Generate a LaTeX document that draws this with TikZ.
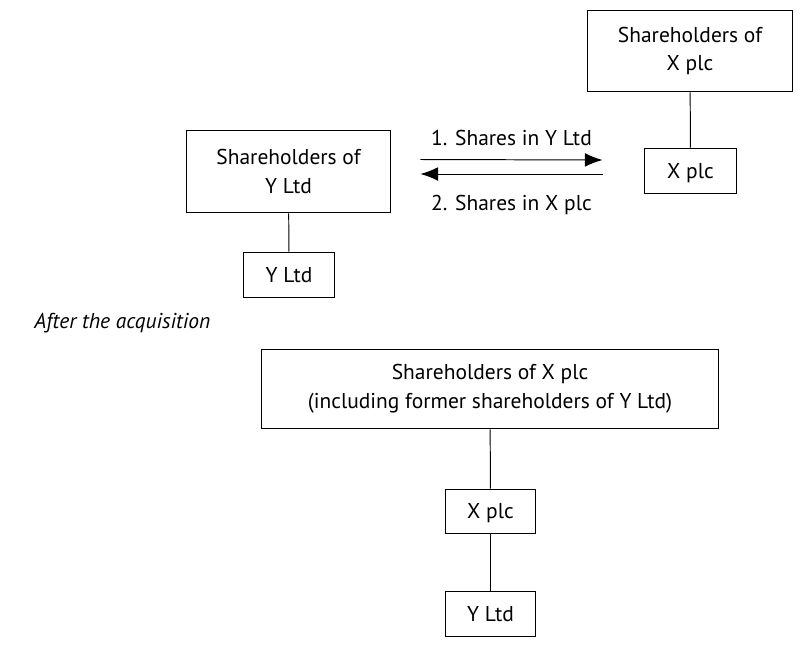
\documentclass[tikz,border=0pt]{standalone}
\usepackage{fontspec}
\setmainfont{PT Sans}
\usetikzlibrary{arrows.meta, positioning, calc}

\tikzset{
    holderbox/.style={rectangle, draw, line width=0.5pt, text centered, align=center, inner sep=0pt},
    unitbox/.style={holderbox, text depth=0pt},
    flow/.style={-{Latex[length=9pt, width=7pt]}, line width=0.5pt},
}

\begin{document}
\begin{tikzpicture}[x=0.018cm, y=-0.018cm, font=\fontsize{11}{14.8}\selectfont]
                \useasboundingbox (0,0) rectangle (807,648);
                % Before the acquisition
                \node (shx) [holderbox, minimum width=206*0.512pt, minimum height=82*0.512pt] at (690,51) {Shareholders of\\X plc};
                \node (xplc) [unitbox, minimum width=93*0.512pt, minimum height=45*0.512pt] at (690.5,170.5) {X plc};
                \node (shy) [holderbox, minimum width=205*0.512pt, minimum height=83*0.512pt] at (288.5,171.5) {Shareholders of\\Y Ltd};
                \node (yltd) [unitbox, minimum width=92*0.512pt, minimum height=45*0.512pt] at (289,274.5) {Y Ltd};

                % Exchange of shares
                \coordinate (tfrom) at ($(shy.east)+(29,-12)$);
                \coordinate (tto) at ($(xplc.west)+(-41,-10.5)$);
                \coordinate (bfrom) at ($(xplc.west)+(-41,3.5)$);
                \coordinate (bto) at ($(shy.east)+(29,2.5)$);
                \draw[flow] (tfrom) -- (tto);
                \draw[flow] (bfrom) -- (bto);
                \node (sharey) at ($(tfrom)!0.5!(tto)+(0,-22)$) {1. Shares in Y Ltd};
                \node (sharex) at ($(bfrom)!0.5!(bto)+(0,31)$) {2. Shares in X plc};

                \draw[line width=0.5pt] (shx) -- (xplc);
                \draw[line width=0.5pt] (shy) -- (yltd);

                % After the acquisition
                \node (after) [anchor=west, inner sep=0pt] at (34,323) {\itshape After the acquisition};
                \node (shall) [holderbox, minimum width=458*0.512pt, minimum height=80*0.512pt] at (490,389) {Shareholders of X plc\\(including former shareholders of Y Ltd)};
                \node (xplc2) [unitbox, minimum width=91*0.512pt, minimum height=44*0.512pt] at (490.5,511) {X plc};
                \node (yltd2) [unitbox, minimum width=91*0.512pt, minimum height=45*0.512pt] at (490.5,613.5) {Y Ltd};

                \draw[line width=0.5pt] (shall) -- (xplc2);
                \draw[line width=0.5pt] (xplc2) -- (yltd2);
            \end{tikzpicture}
\end{document}
